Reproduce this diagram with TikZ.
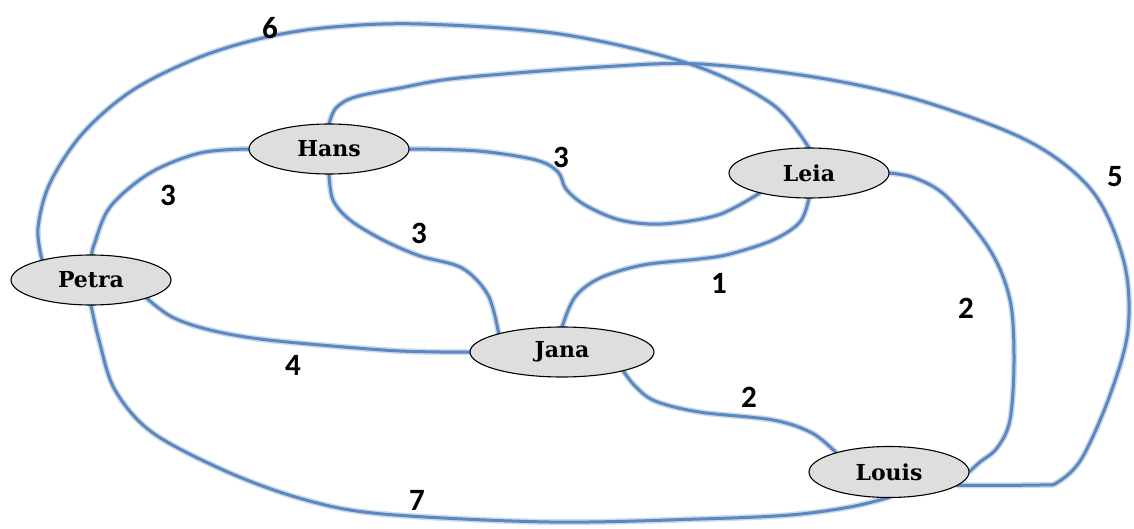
\documentclass[tikz,border=0pt]{standalone}
\usepackage{fontspec}
\newfontfamily\nodefont{DejaVu Serif}
\newfontfamily\numfont{Carlito}
\usetikzlibrary{shapes.geometric,backgrounds}
\definecolor{edgeblue}{RGB}{92,136,192}
\definecolor{halo}{RGB}{205,218,236}
\definecolor{nodegray}{RGB}{222,222,222}
\tikzset{
  person/.style={ellipse, draw=black, line width=1.1pt, fill=nodegray, inner sep=0pt, outer sep=0pt,
    minimum width=160pt, minimum height=50pt, font=\nodefont\bfseries\fontsize{22}{22}\selectfont},
  link/.style={draw=edgeblue, line width=3pt, line cap=round, line join=round},
  glow/.style={draw=halo, line width=6pt, line cap=round, line join=round},
  weight/.style={font=\numfont\bfseries\fontsize{31}{31}\selectfont, inner sep=0pt}
}
\begin{document}
\begin{tikzpicture}[x=1pt,y=-1pt]
\useasboundingbox (0,0) rectangle (1134,529);
\node[person] (hans) at (329,149) {Hans};
\node[person] (leia) at (809,173) {Leia};
\node[person] (petra) at (91,280) {Petra};
\node[person, minimum width=184pt] (jana) at (562,352) {Jana};
\node[person, minimum height=51pt] (louis) at (889,472) {Louis};
\begin{scope}[on background layer]
\fill[white] (0,0) rectangle (1134,529);
\foreach \s in {glow,link}{
% 6: Petra - Leia
\draw[\s] plot[smooth, tension=0.55] coordinates {(petra.158) (38,228) (50,183) (83,133) (133,90) (200,57) (267,37) (333,27) (421,24) (560,34) (690,64) (772,104) (leia.north)};
% 5: Hans - Louis
\draw[\s] plot[smooth, tension=0.55] coordinates {(hans.north) (336,108) (355,97) (400,88) (459,78) (600,67) (700,64) (820,78) (922,101) (1030,142) (1093,192) (1124,262) (1128,330) (1110,395) (1082,458) (1058,482) (1040,485) (louis.-11)};
% 3: Hans - Petra
\draw[\s] plot[smooth, tension=0.55] coordinates {(hans.west) (200,153) (150,173) (110,207) (94,245) (petra.88)};
% 3: Hans - Leia
\draw[\s] plot[smooth, tension=0.55] coordinates {(hans.east) (478,151) (536,160) (558,172) (566,189) (585,205) (620,220) (662,224) (718,215) (leia.202)};
% 3: Hans - Jana
\draw[\s] plot[smooth, tension=0.55] coordinates {(hans.south) (333,200) (350,220) (383,240) (420,256) (462,268) (488,295) (jana.164)};
% 1: Leia - Jana
\draw[\s] plot[smooth, tension=0.55] coordinates {(leia.south) (800,222) (773,240) (730,254) (699,259) (643,265) (600,278) (575,297) (jana.north)};
% 2: Leia - Louis
\draw[\s] plot[smooth, tension=0.55] coordinates {(leia.east) (915,178) (947,197) (990,250) (1010,300) (1014,360) (1010,420) (997,448) (980,462) (louis.east)};
% 2: Jana - Louis
\draw[\s] plot[smooth, tension=0.55] coordinates {(jana.-17) (635,386) (655,401) (699,412) (773,420) (812,433) (louis.160)};
% 4: Petra - Jana
\draw[\s] plot[smooth, tension=0.55] coordinates {(petra.-18) (172,317) (210,330) (268,340) (383,350) (440,352) (jana.west)};
% 7: Petra - Louis
\draw[\s] plot[smooth, tension=0.55] coordinates {(petra.south) (99,340) (115,390) (153,433) (230,473) (306,500) (383,514) (550,522) (700,519) (790,515) (850,507) (louis.south)};
}
\end{scope}
\node[weight] (w6) at (270,28) {6};
\node[weight] (w3a) at (168,195) {3};
\node[weight] (w3b) at (561,157) {3};
\node[weight] (w3c) at (419,233) {3};
\node[weight] (w5) at (1115,177) {5};
\node[weight] (w1) at (719,283) {1};
\node[weight] (w2a) at (966,308) {2};
\node[weight] (w2b) at (749,397) {2};
\node[weight] (w4) at (293,365) {4};
\node[weight] (w7) at (417,500) {7};
\end{tikzpicture}
\end{document}
